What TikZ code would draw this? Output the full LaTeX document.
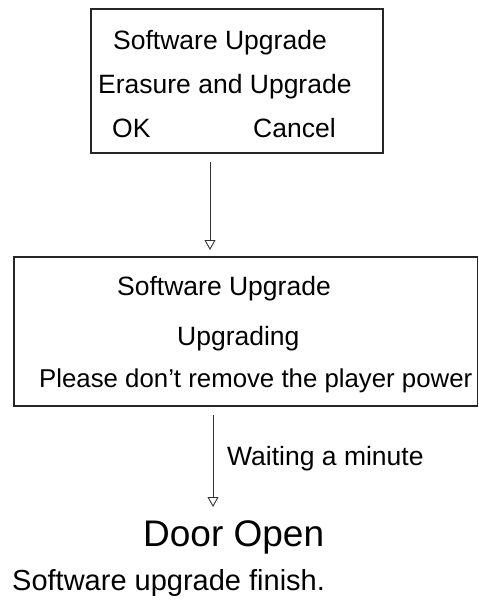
\documentclass[tikz,border=0pt]{standalone}
\usepackage{fontspec}
\setmainfont{Liberation Sans}
\usetikzlibrary{arrows.meta}
\begin{document}
\begin{tikzpicture}[x=1pt,y=-1pt,
  txt/.style={inner sep=0pt,anchor=base west,font=\fontsize{26.5}{30}\selectfont},
  smalltxt/.style={inner sep=0pt,anchor=base west,font=\fontsize{25.8}{30}\selectfont},
  bigtxt/.style={inner sep=0pt,anchor=base west,font=\fontsize{37}{42}\selectfont},
  midtxt/.style={inner sep=0pt,anchor=base west,font=\fontsize{29}{34}\selectfont},
  framest/.style={draw=black!85,line width=1.4pt},
  conn/.style={draw=black!80,line width=0.9pt,-{Triangle[open,width=11pt,length=10pt,fill=white]}}]
\useasboundingbox (0,0) rectangle (479,606);
% box 1
\draw[framest] (91,9) rectangle (383,153);
\coordinate (b1s) at (210,162);
\node[txt] (t1) at (113,49) {Software Upgrade};
\node[txt] (t2) at (98,93) {Erasure and Upgrade};
\node[txt] (t3) at (112,137) {OK};
\node[txt] (t4) at (253,137) {Cancel};
% box 2
\draw[framest] (14,257) rectangle (477.5,406);
\coordinate (b2n) at (210,250);
\coordinate (b2s) at (213,415);
\node[txt] (u1) at (117,295) {Software Upgrade};
\node[txt] (u2) at (177,345) {Upgrading};
\node[smalltxt] (u3) at (39,387) {Please don’t remove the player power};
% arrows
\draw[conn] (b1s) -- (b2n);
\coordinate (dtop) at (213,507);
\draw[conn] (b2s) -- (dtop);
\node[txt] (w) at (227,465) {Waiting a minute};
\node[bigtxt] (door) at (143,546) {Door Open};
\node[midtxt] (fin) at (12,590) {Software upgrade finish.};
\end{tikzpicture}
\end{document}
